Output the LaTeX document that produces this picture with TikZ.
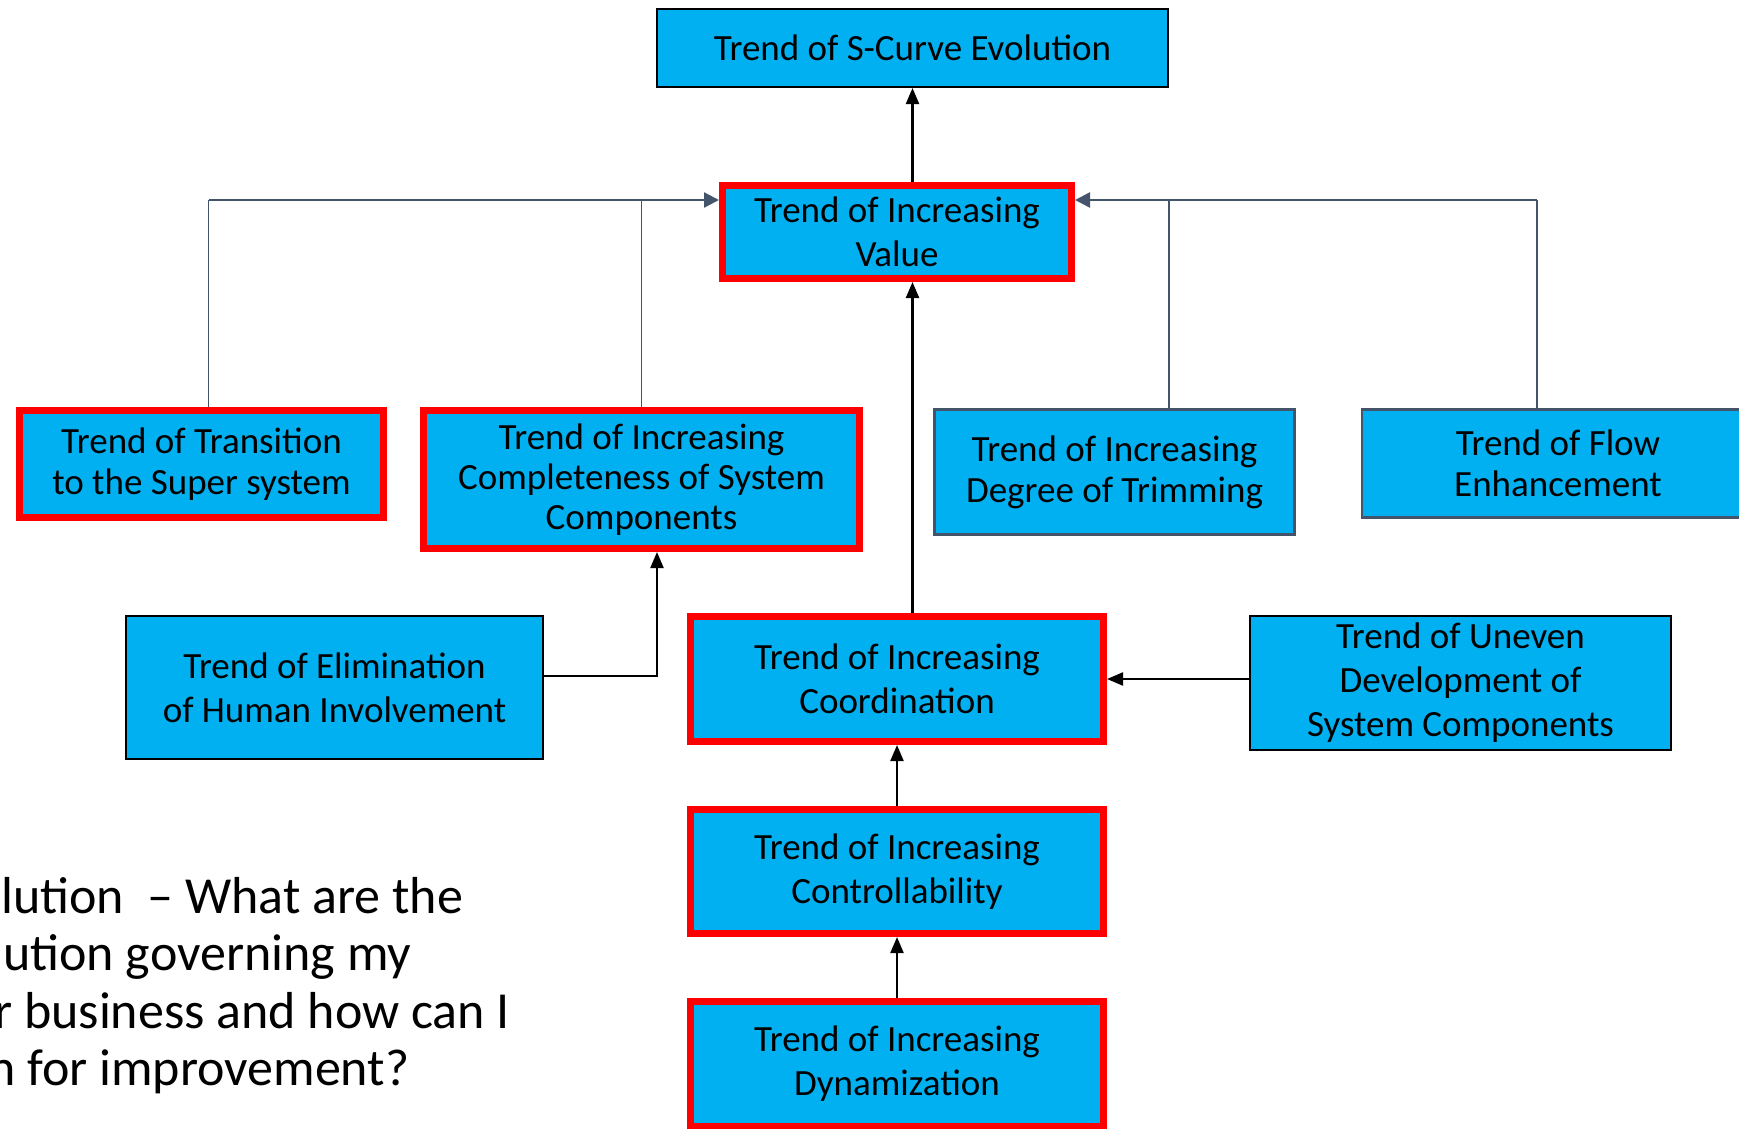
\documentclass[tikz,border=0pt]{standalone}
\usepackage{fontspec}
\setmainfont{Carlito}
\usetikzlibrary{arrows.meta,calc}

\definecolor{boxcyan}{HTML}{00B0F0}
\definecolor{boxred}{HTML}{FF0000}
\definecolor{slate}{HTML}{44546A}

\newcommand\boxfont{\fontsize{37}{44}\selectfont}
\newcommand\bigfont{\fontsize{52}{57}\selectfont}

\tikzset{
  x=1pt, y=-1pt,
  box/.style={fill=boxcyan, align=center, inner sep=0pt, font=\boxfont, text=black},
  redbox/.style={box, draw=boxred, line width=7pt},
  blackbox/.style={box, draw=black, line width=2pt},
  slatebox/.style={box, draw=slate, line width=2.5pt},
  arr/.style={draw=black, line width=2.2pt, -{Triangle[length=16pt,width=13pt]}},
  slatearr/.style={draw=slate, line width=2.4pt, -{Triangle[length=15pt,width=15pt]}},
  slateline/.style={draw=slate, line width=1.4pt},
  bigtext/.style={font=\bigfont, text=black, inner sep=0pt, anchor=base west},
}

\begin{document}
\begin{tikzpicture}
\useasboundingbox (0,0) rectangle (1739,1128);

% top of the hierarchy
\node[blackbox, minimum width=511pt, minimum height=78pt] (scurve) at (912.5,48) {Trend of S-Curve Evolution};
\node[redbox, minimum width=349pt, minimum height=93pt] (value) at (897,232) {Trend of Increasing\\Value};

% trends feeding the value trend
\node[redbox, minimum width=364pt, minimum height=107pt, font=\fontsize{37}{41}\selectfont] (trans) at (201.5,464) {Trend of Transition\\to the Super system};
\node[redbox, minimum width=436pt, minimum height=138pt, font=\fontsize{37}{40}\selectfont] (compl) at (641.5,479.5) {Trend of Increasing\\Completeness of System\\Components};
\node[slatebox, minimum width=360pt, minimum height=125pt, font=\fontsize{37}{41}\selectfont] (trim) at (1114.5,472) {Trend of Increasing\\Degree of Trimming};
\node[slatebox, minimum width=392pt, minimum height=108pt, font=\fontsize{37}{41}\selectfont] (flow) at (1558,463.5) {Trend of Flow\\Enhancement};

% middle and lower rows
\node[blackbox, minimum width=417pt, minimum height=143pt] (elim) at (334.5,687.5) {Trend of Elimination\\of Human Involvement};
\node[redbox, minimum width=413pt, minimum height=125pt] (coord) at (897,679) {Trend of Increasing\\Coordination};
\node[blackbox, minimum width=421pt, minimum height=134pt] (uneven) at (1460.5,683) {Trend of Uneven\\Development of\\System Components};
\node[redbox, minimum width=413pt, minimum height=124pt] (ctrl) at (897,871.5) {Trend of Increasing\\Controllability};
\node[redbox, minimum width=413pt, minimum height=125pt] (dyn) at (897,1064) {Trend of Increasing\\Dynamization};

% helper coordinates for the connectors
\coordinate (hy) at (0,200);
\coordinate (sv) at (208.5,0);
\coordinate (tv) at (1169,0);
\coordinate (fv) at (1537,0);
\coordinate (ej) at (657,676);

% black arrows
\draw[arr] (value.north -| scurve.south) -- (scurve.south);
\draw[arr] (coord.north -| scurve.south) -- (value.south -| scurve.south);
\draw[arr] (ctrl.north) -- (coord.south);
\draw[arr] (dyn.north) -- (ctrl.south);
\draw[arr] (uneven.west |- coord.east) -- (coord.east);
\draw[arr] (elim.east |- ej) -- (ej) -- (ej |- compl.south);

% slate bus into the value trend
\draw[slateline] (sv |- trans.north) -- (sv |- hy);
\draw[slateline] (compl.north) -- (compl.north |- hy);
\draw[slateline] (tv |- trim.north) -- (tv |- hy);
\draw[slateline] (fv |- flow.north) -- (fv |- hy);
\draw[slatearr] (sv |- hy) -- (value.west |- hy);
\draw[slatearr] (fv |- hy) -- (value.east |- hy);

% question text
\node[bigtext] (q1) at (1,913) {lution~ – What are the};
\node[bigtext] (q2) at (3,970) {ution governing my};
\node[bigtext] (q3) at (-6,1028) {r business and how can I};
\node[bigtext] (q4) at (-12,1085) {n for improvement?};
\end{tikzpicture}
\end{document}
